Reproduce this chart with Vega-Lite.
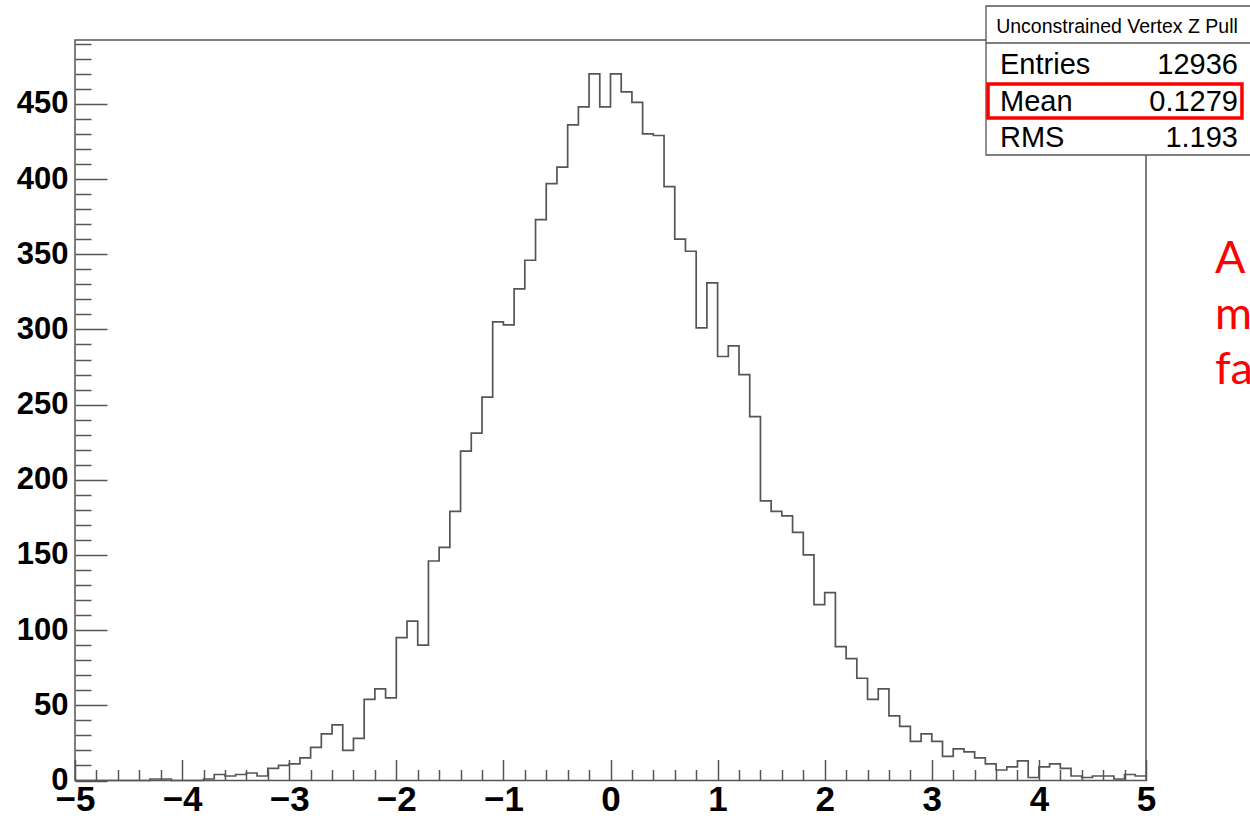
{
  "$schema": "https://vega.github.io/schema/vega-lite/v6.json",
  "width": 1071,
  "height": 740.5,
  "autosize": {"type": "none"},
  "padding": {"left": 75, "top": 40, "right": 104, "bottom": 38.5},
  "background": "white",
  "config": {
    "view": {"stroke": "#555", "strokeWidth": 1.5},
    "axis": {"grid": false, "domain": false, "title": null}
  },
  "data": {"values": [
    {"lo": -5.0, "hi": -4.9, "n": 0}, {"lo": -4.9, "hi": -4.8, "n": 0}, {"lo": -4.8, "hi": -4.7, "n": 0}, {"lo": -4.7, "hi": -4.6, "n": 0}, {"lo": -4.6, "hi": -4.5, "n": 0},
    {"lo": -4.5, "hi": -4.4, "n": 0}, {"lo": -4.4, "hi": -4.3, "n": 0}, {"lo": -4.3, "hi": -4.2, "n": 1}, {"lo": -4.2, "hi": -4.1, "n": 1}, {"lo": -4.1, "hi": -4.0, "n": 0},
    {"lo": -4.0, "hi": -3.9, "n": 0}, {"lo": -3.9, "hi": -3.8, "n": 0}, {"lo": -3.8, "hi": -3.7, "n": 1}, {"lo": -3.7, "hi": -3.6, "n": 4}, {"lo": -3.6, "hi": -3.5, "n": 3},
    {"lo": -3.5, "hi": -3.4, "n": 4}, {"lo": -3.4, "hi": -3.3, "n": 5}, {"lo": -3.3, "hi": -3.2, "n": 3}, {"lo": -3.2, "hi": -3.1, "n": 8}, {"lo": -3.1, "hi": -3.0, "n": 10},
    {"lo": -3.0, "hi": -2.9, "n": 11}, {"lo": -2.9, "hi": -2.8, "n": 15}, {"lo": -2.8, "hi": -2.7, "n": 22}, {"lo": -2.7, "hi": -2.6, "n": 31}, {"lo": -2.6, "hi": -2.5, "n": 37},
    {"lo": -2.5, "hi": -2.4, "n": 20}, {"lo": -2.4, "hi": -2.3, "n": 28}, {"lo": -2.3, "hi": -2.2, "n": 54}, {"lo": -2.2, "hi": -2.1, "n": 61}, {"lo": -2.1, "hi": -2.0, "n": 55},
    {"lo": -2.0, "hi": -1.9, "n": 95}, {"lo": -1.9, "hi": -1.8, "n": 106}, {"lo": -1.8, "hi": -1.7, "n": 90}, {"lo": -1.7, "hi": -1.6, "n": 146}, {"lo": -1.6, "hi": -1.5, "n": 155},
    {"lo": -1.5, "hi": -1.4, "n": 179}, {"lo": -1.4, "hi": -1.3, "n": 219}, {"lo": -1.3, "hi": -1.2, "n": 231}, {"lo": -1.2, "hi": -1.1, "n": 255}, {"lo": -1.1, "hi": -1.0, "n": 305},
    {"lo": -1.0, "hi": -0.9, "n": 303}, {"lo": -0.9, "hi": -0.8, "n": 327}, {"lo": -0.8, "hi": -0.7, "n": 346}, {"lo": -0.7, "hi": -0.6, "n": 373}, {"lo": -0.6, "hi": -0.5, "n": 397},
    {"lo": -0.5, "hi": -0.4, "n": 408}, {"lo": -0.4, "hi": -0.3, "n": 436}, {"lo": -0.3, "hi": -0.2, "n": 448}, {"lo": -0.2, "hi": -0.1, "n": 470}, {"lo": -0.1, "hi": 0.0, "n": 448},
    {"lo": 0.0, "hi": 0.1, "n": 470}, {"lo": 0.1, "hi": 0.2, "n": 458}, {"lo": 0.2, "hi": 0.3, "n": 451}, {"lo": 0.3, "hi": 0.4, "n": 430}, {"lo": 0.4, "hi": 0.5, "n": 429},
    {"lo": 0.5, "hi": 0.6, "n": 395}, {"lo": 0.6, "hi": 0.7, "n": 360}, {"lo": 0.7, "hi": 0.8, "n": 352}, {"lo": 0.8, "hi": 0.9, "n": 301}, {"lo": 0.9, "hi": 1.0, "n": 331},
    {"lo": 1.0, "hi": 1.1, "n": 282}, {"lo": 1.1, "hi": 1.2, "n": 289}, {"lo": 1.2, "hi": 1.3, "n": 270}, {"lo": 1.3, "hi": 1.4, "n": 242}, {"lo": 1.4, "hi": 1.5, "n": 186},
    {"lo": 1.5, "hi": 1.6, "n": 179}, {"lo": 1.6, "hi": 1.7, "n": 176}, {"lo": 1.7, "hi": 1.8, "n": 165}, {"lo": 1.8, "hi": 1.9, "n": 150}, {"lo": 1.9, "hi": 2.0, "n": 117},
    {"lo": 2.0, "hi": 2.1, "n": 125}, {"lo": 2.1, "hi": 2.2, "n": 89}, {"lo": 2.2, "hi": 2.3, "n": 81}, {"lo": 2.3, "hi": 2.4, "n": 68}, {"lo": 2.4, "hi": 2.5, "n": 54},
    {"lo": 2.5, "hi": 2.6, "n": 61}, {"lo": 2.6, "hi": 2.7, "n": 43}, {"lo": 2.7, "hi": 2.8, "n": 36}, {"lo": 2.8, "hi": 2.9, "n": 26}, {"lo": 2.9, "hi": 3.0, "n": 31},
    {"lo": 3.0, "hi": 3.1, "n": 26}, {"lo": 3.1, "hi": 3.2, "n": 16}, {"lo": 3.2, "hi": 3.3, "n": 21}, {"lo": 3.3, "hi": 3.4, "n": 19}, {"lo": 3.4, "hi": 3.5, "n": 15},
    {"lo": 3.5, "hi": 3.6, "n": 11}, {"lo": 3.6, "hi": 3.7, "n": 7}, {"lo": 3.7, "hi": 3.8, "n": 9}, {"lo": 3.8, "hi": 3.9, "n": 13}, {"lo": 3.9, "hi": 4.0, "n": 2},
    {"lo": 4.0, "hi": 4.1, "n": 9}, {"lo": 4.1, "hi": 4.2, "n": 11}, {"lo": 4.2, "hi": 4.3, "n": 8}, {"lo": 4.3, "hi": 4.4, "n": 3}, {"lo": 4.4, "hi": 4.5, "n": 2},
    {"lo": 4.5, "hi": 4.6, "n": 3}, {"lo": 4.6, "hi": 4.7, "n": 3}, {"lo": 4.7, "hi": 4.8, "n": 1}, {"lo": 4.8, "hi": 4.9, "n": 4}, {"lo": 4.9, "hi": 5.0, "n": 3}
  ]},
  "resolve": {"axis": {"x": "independent", "y": "independent"}},
  "layer": [
    {
      "transform": [{"fold": ["lo", "hi"], "as": ["edge", "xv"]}],
      "mark": {"type": "line", "stroke": "#555", "strokeWidth": 1.7, "strokeJoin": "miter"},
      "encoding": {
        "x": {"field": "xv", "type": "quantitative",
          "scale": {"domain": [-5, 5], "nice": false, "zero": false},
          "axis": {"orient": "bottom", "values": [-5, -4, -3, -2, -1, 0, 1, 2, 3, 4, 5], "ticks": false, "domain": false, "grid": false,
            "labelFont": "Liberation Sans", "labelFontSize": 35, "labelFontWeight": "bold", "labelColor": "#000",
            "labelPadding": 2, "labelFlush": false, "labelOverlap": false, "labelBound": false, "title": null}},
        "y": {"field": "n", "type": "quantitative",
          "scale": {"domain": [0, 492.5], "nice": false, "zero": true},
          "axis": {"orient": "left", "values": [0, 50, 100, 150, 200, 250, 300, 350, 400, 450], "ticks": false, "domain": false, "grid": false,
            "labelFont": "Liberation Sans", "labelFontSize": 31, "labelFontWeight": "bold", "labelColor": "#000",
            "labelPadding": 7, "labelOverlap": false, "labelBound": false, "labelFlush": false, "title": null}},
        "order": [{"field": "lo", "type": "quantitative"}, {"field": "edge", "type": "nominal", "sort": "descending"}]
      }
    },
    {
      "data": {"values": [{}]},
      "mark": {"type": "point", "opacity": 0},
      "encoding": {
        "x": {"datum": 0, "type": "quantitative",
          "axis": {"orient": "bottom", "values": [-5, -4, -3, -2, -1, 0, 1, 2, 3, 4, 5], "labels": false, "domain": false, "grid": false,
            "tickSize": -21, "tickColor": "#555", "tickWidth": 1.5, "title": null}},
        "y": {"datum": 0, "type": "quantitative",
          "axis": {"orient": "left", "values": [0, 50, 100, 150, 200, 250, 300, 350, 400, 450], "labels": false, "domain": false, "grid": false,
            "tickSize": -32, "tickColor": "#555", "tickWidth": 1.5, "title": null}}
      }
    },
    {
      "data": {"values": [{}]},
      "mark": {"type": "point", "opacity": 0},
      "encoding": {
        "x": {"datum": 0, "type": "quantitative",
          "axis": {"orient": "bottom", "values": [-4.8, -4.6, -4.4, -4.2, -3.8, -3.6, -3.4, -3.2, -2.8, -2.6, -2.4, -2.2, -1.8, -1.6, -1.4, -1.2, -0.8, -0.6, -0.4, -0.2, 0.2, 0.4, 0.6, 0.8, 1.2, 1.4, 1.6, 1.8, 2.2, 2.4, 2.6, 2.8, 3.2, 3.4, 3.6, 3.8, 4.2, 4.4, 4.6, 4.8],
            "labels": false, "domain": false, "grid": false, "tickSize": -11, "tickColor": "#555", "tickWidth": 1.5, "title": null}},
        "y": {"datum": 0, "type": "quantitative",
          "axis": {"orient": "left", "values": [10, 20, 30, 40, 60, 70, 80, 90, 110, 120, 130, 140, 160, 170, 180, 190, 210, 220, 230, 240, 260, 270, 280, 290, 310, 320, 330, 340, 360, 370, 380, 390, 410, 420, 430, 440, 460, 470, 480, 490],
            "labels": false, "domain": false, "grid": false, "tickSize": -16, "tickColor": "#555", "tickWidth": 1.5, "title": null}}
      }
    },
    {
      "data": {"values": [{}]},
      "mark": {"type": "rect", "fill": "white", "stroke": "#555", "strokeWidth": 1.3},
      "encoding": {
        "x": {"datum": 3.506, "type": "quantitative", "axis": null}, "x2": {"datum": 6.2},
        "y": {"datum": 515.1, "type": "quantitative", "axis": null}, "y2": {"datum": 416.0}
      }
    },
    {
      "data": {"values": [{}]},
      "mark": {"type": "rule", "stroke": "#555", "strokeWidth": 1.3},
      "encoding": {
        "x": {"datum": 3.506, "type": "quantitative", "axis": null}, "x2": {"datum": 6.2},
        "y": {"datum": 490.5, "type": "quantitative", "axis": null}
      }
    },
    {
      "data": {"values": [{}]},
      "mark": {"type": "text", "text": "Unconstrained Vertex Z Pull", "font": "Liberation Sans", "fontSize": 19.5, "align": "center", "baseline": "alphabetic", "color": "#000"},
      "encoding": {"x": {"datum": 4.729, "type": "quantitative", "axis": null}, "y": {"datum": 496.9, "type": "quantitative", "axis": null}}
    },
    {
      "data": {"values": [{}]},
      "mark": {"type": "text", "text": "Entries", "font": "Liberation Sans", "fontSize": 29, "align": "left", "baseline": "alphabetic", "color": "#000"},
      "encoding": {"x": {"datum": 3.637, "type": "quantitative", "axis": null}, "y": {"datum": 469.9, "type": "quantitative", "axis": null}}
    },
    {
      "data": {"values": [{}]},
      "mark": {"type": "text", "text": "12936", "font": "Liberation Sans", "fontSize": 29, "align": "right", "baseline": "alphabetic", "color": "#000"},
      "encoding": {"x": {"datum": 5.859, "type": "quantitative", "axis": null}, "y": {"datum": 469.9, "type": "quantitative", "axis": null}}
    },
    {
      "data": {"values": [{}]},
      "mark": {"type": "text", "text": "Mean", "font": "Liberation Sans", "fontSize": 29, "align": "left", "baseline": "alphabetic", "color": "#000"},
      "encoding": {"x": {"datum": 3.637, "type": "quantitative", "axis": null}, "y": {"datum": 445.5, "type": "quantitative", "axis": null}}
    },
    {
      "data": {"values": [{}]},
      "mark": {"type": "text", "text": "0.1279", "font": "Liberation Sans", "fontSize": 29, "align": "right", "baseline": "alphabetic", "color": "#000"},
      "encoding": {"x": {"datum": 5.859, "type": "quantitative", "axis": null}, "y": {"datum": 445.5, "type": "quantitative", "axis": null}}
    },
    {
      "data": {"values": [{}]},
      "mark": {"type": "text", "text": "RMS", "font": "Liberation Sans", "fontSize": 29, "align": "left", "baseline": "alphabetic", "color": "#000"},
      "encoding": {"x": {"datum": 3.637, "type": "quantitative", "axis": null}, "y": {"datum": 421.1, "type": "quantitative", "axis": null}}
    },
    {
      "data": {"values": [{}]},
      "mark": {"type": "text", "text": "1.193", "font": "Liberation Sans", "fontSize": 29, "align": "right", "baseline": "alphabetic", "color": "#000"},
      "encoding": {"x": {"datum": 5.859, "type": "quantitative", "axis": null}, "y": {"datum": 421.1, "type": "quantitative", "axis": null}}
    },
    {
      "data": {"values": [{}]},
      "mark": {"type": "rect", "fill": null, "fillOpacity": 0, "stroke": "#ff0000", "strokeWidth": 3.5},
      "encoding": {
        "x": {"datum": 3.525, "type": "quantitative", "axis": null}, "x2": {"datum": 5.896},
        "y": {"datum": 463.3, "type": "quantitative", "axis": null}, "y2": {"datum": 440.7}
      }
    },
    {
      "data": {"values": [{}]},
      "mark": {"type": "text", "text": "A", "font": "Lato", "fontSize": 45, "align": "left", "baseline": "alphabetic", "color": "#ff0000"},
      "encoding": {"x": {"datum": 5.644, "type": "quantitative", "axis": null}, "y": {"datum": 337.5, "type": "quantitative", "axis": null}}
    },
    {
      "data": {"values": [{}]},
      "mark": {"type": "text", "text": "m", "font": "Lato", "fontSize": 45, "align": "left", "baseline": "alphabetic", "color": "#ff0000"},
      "encoding": {"x": {"datum": 5.644, "type": "quantitative", "axis": null}, "y": {"datum": 300.3, "type": "quantitative", "axis": null}}
    },
    {
      "data": {"values": [{}]},
      "mark": {"type": "text", "text": "fa", "font": "Lato", "fontSize": 45, "align": "left", "baseline": "alphabetic", "color": "#ff0000"},
      "encoding": {"x": {"datum": 5.644, "type": "quantitative", "axis": null}, "y": {"datum": 263.7, "type": "quantitative", "axis": null}}
    }
  ]
}
